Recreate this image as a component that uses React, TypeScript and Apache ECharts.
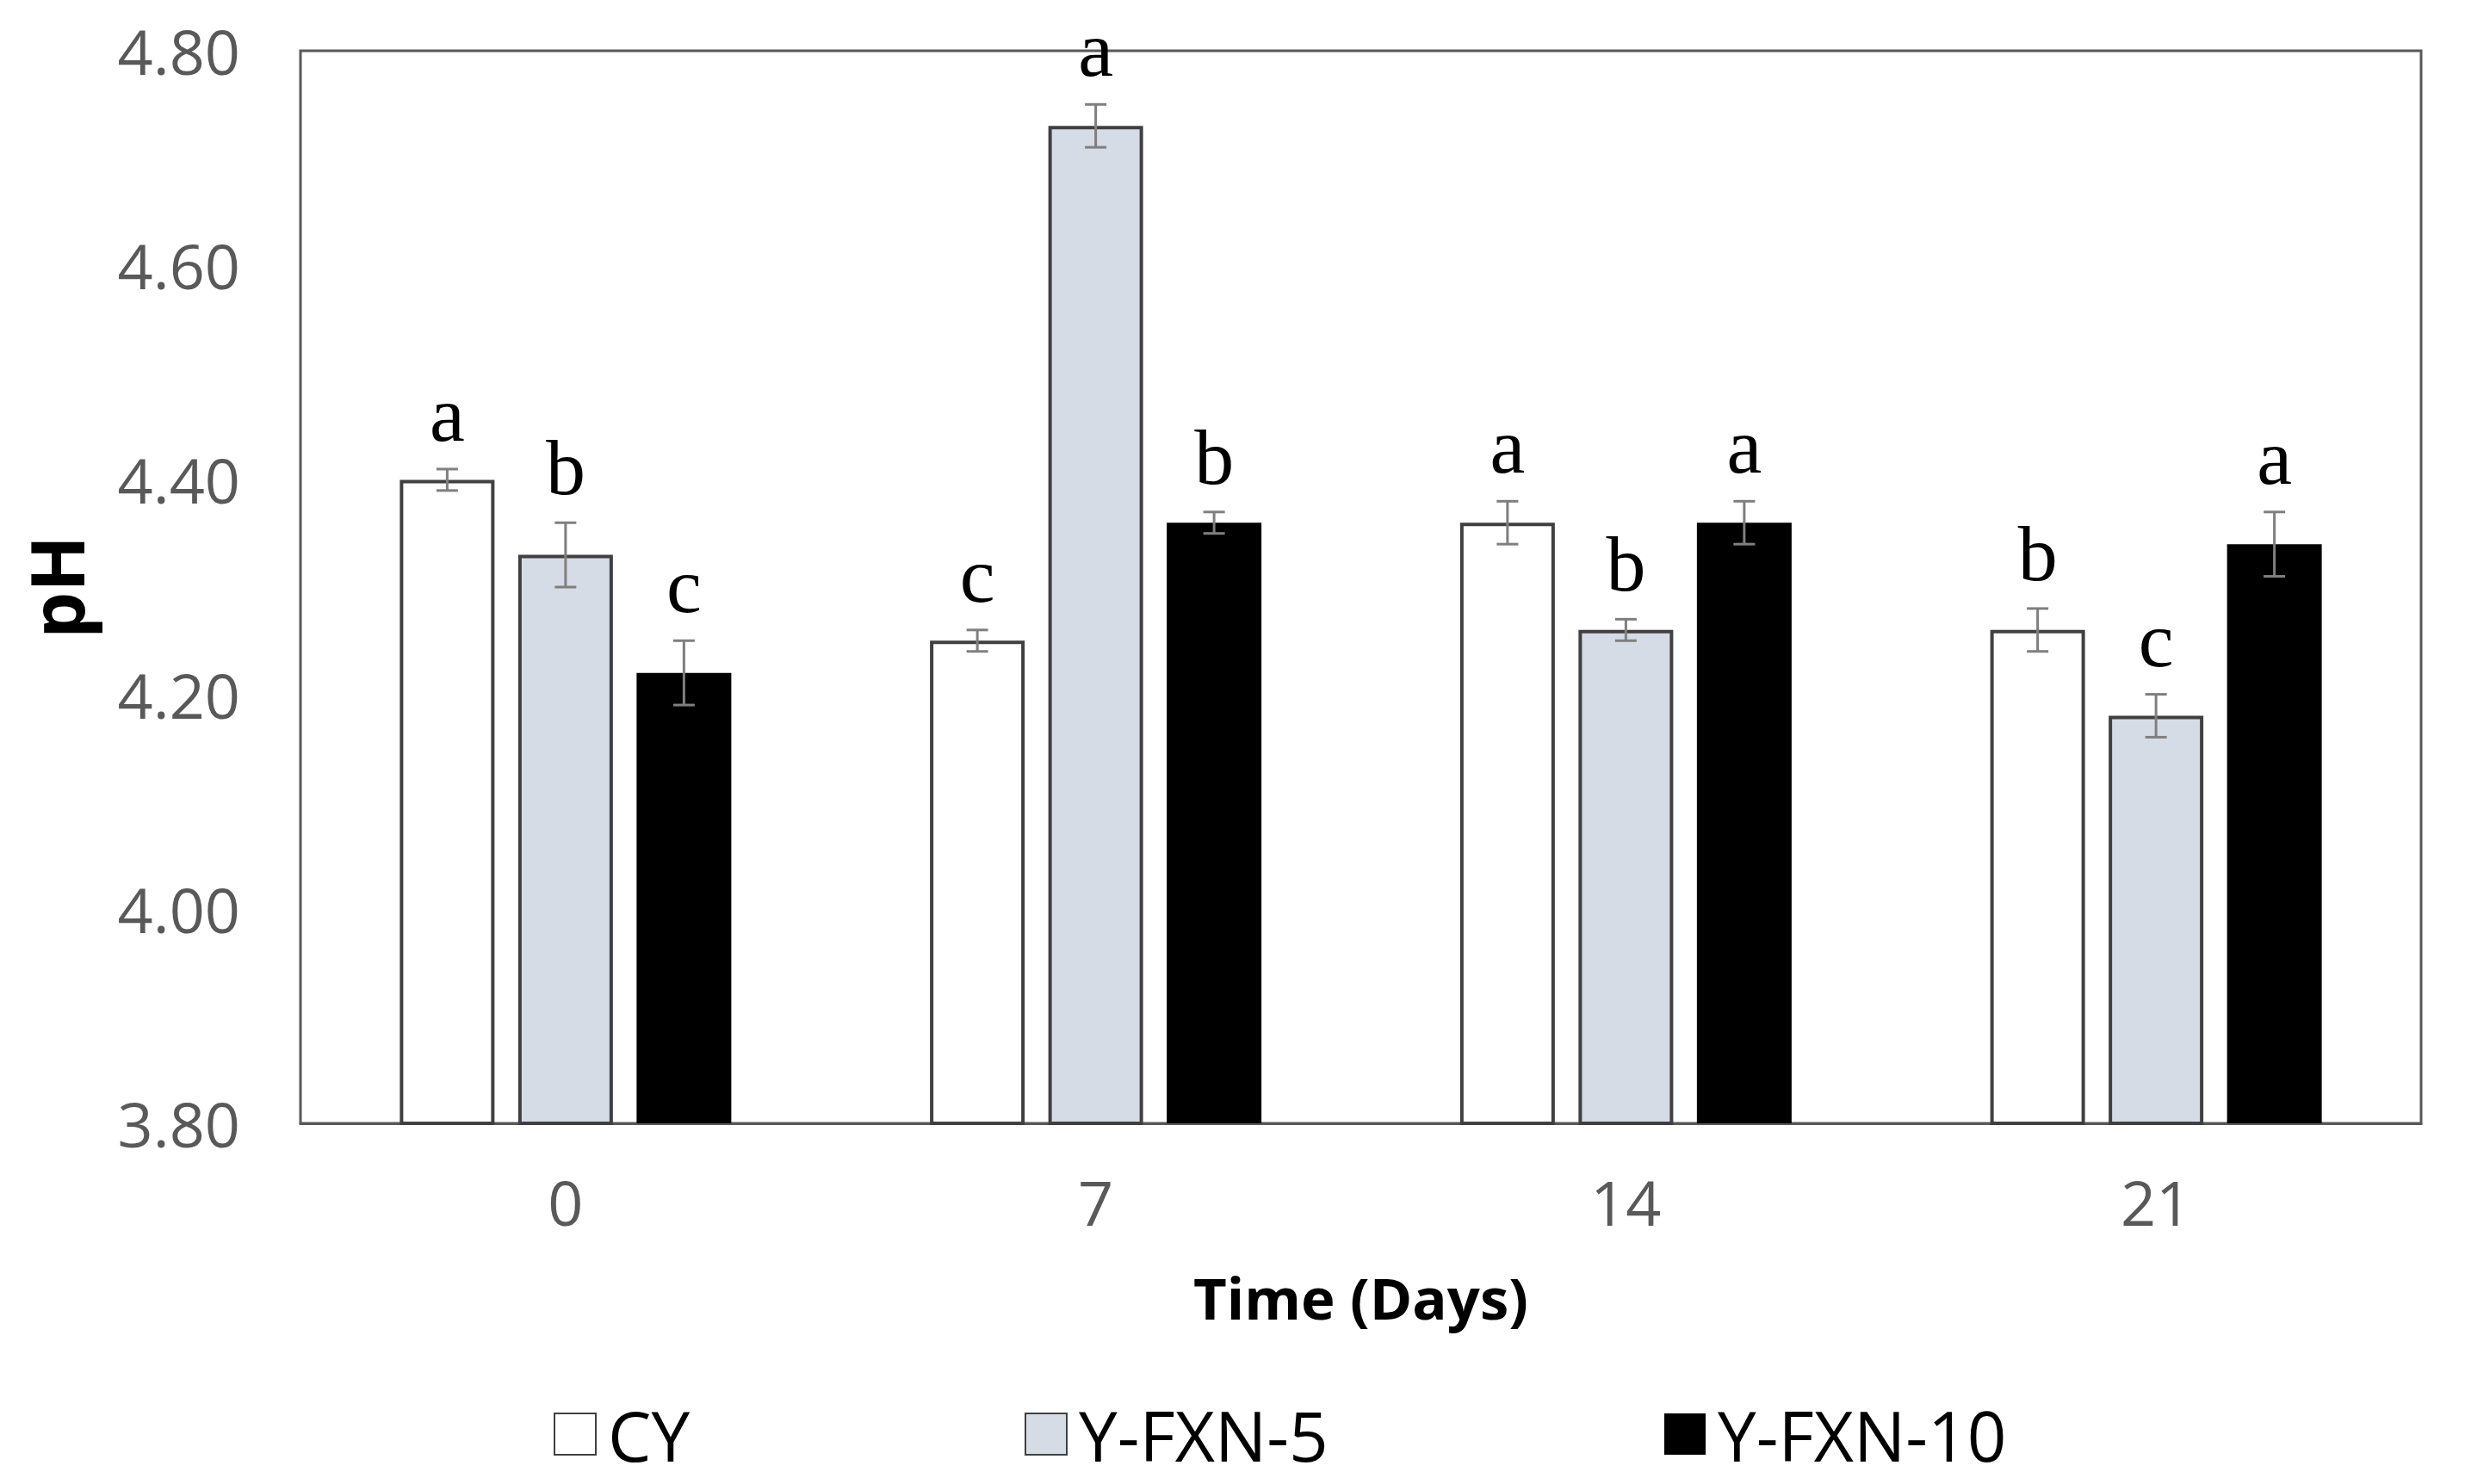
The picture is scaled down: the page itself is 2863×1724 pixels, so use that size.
import React, { useEffect, useRef } from "react";
import * as echarts from "echarts";

const days = ["0", "7", "14", "21"];
const seriesNames = ["CY", "Y-FXN-5", "Y-FXN-10"];
const cyValues = [4.4, 4.25, 4.36, 4.26];
const fxn5Values = [4.33, 4.73, 4.26, 4.18];
const fxn10Values = [4.22, 4.36, 4.36, 4.34];
const cyErrors = [0.01, 0.01, 0.02, 0.02];
const fxn5Errors = [0.03, 0.02, 0.01, 0.02];
const fxn10Errors = [0.03, 0.01, 0.02, 0.03];
const cyLetters = ["a", "c", "a", "b"];
const fxn5Letters = ["b", "a", "b", "c"];
const fxn10Letters = ["c", "b", "a", "a"];
const yMin = 3.8;
const yMax = 4.8;
const yStep = 0.2;

const FONT = '"Open Sans", "Noto Sans", sans-serif';
const BAR_W = 110;
const BAR_GAP = 27.5;

function errorSeries(values: number[], errors: number[], letters: string[], slot: number) {
  return {
    type: "custom",
    name: "err-" + slot,
    coordinateSystem: "cartesian2d",
    z: 10,
    silent: true,
    encode: { x: 0, y: 1 },
    data: values.map((v, i) => [i, v, errors[i]]),
    renderItem: (params: any, api: any) => {
      const i = api.value(0);
      const v = api.value(1);
      const e = api.value(2);
      const base = api.coord([i, v]);
      const cx = base[0] + (slot - 1) * (BAR_W + BAR_GAP);
      const top = api.coord([i, v + e])[1];
      const bot = api.coord([i, v - e])[1];
      const capHalf = 12.5;
      const st = { stroke: "#7f7f7f", lineWidth: 3 };
      return {
        type: "group",
        children: [
          { type: "line", shape: { x1: cx, y1: top, x2: cx, y2: bot }, style: st },
          { type: "line", shape: { x1: cx - capHalf, y1: top, x2: cx + capHalf, y2: top }, style: st },
          { type: "line", shape: { x1: cx - capHalf, y1: bot, x2: cx + capHalf, y2: bot }, style: st },
          {
            type: "text",
            x: cx,
            y: top - 18,
            style: {
              text: letters[params.dataIndex],
              fill: "#000",
              fontSize: 92,
              fontFamily: '"Liberation Serif", serif',
              align: "center",
              verticalAlign: "bottom",
            },
          },
        ],
      };
    },
  };
}

export default function App() {
  const ref = useRef<HTMLDivElement>(null);
  useEffect(() => {
    if (!ref.current) return;
    const chart = echarts.init(ref.current, undefined, { renderer: "svg" });
    const legendLeft = [643, 1190, 1933];
    const barStyles = [
      { color: "#FFFFFF", borderColor: "#404040", borderWidth: 4 },
      { color: "#D6DCE5", borderColor: "#404040", borderWidth: 4 },
      { color: "#000000", borderColor: "#000000", borderWidth: 0 },
    ];
    const valueSets = [cyValues, fxn5Values, fxn10Values];
    chart.setOption({
      animation: false,
      backgroundColor: "#ffffff",
      textStyle: { fontFamily: FONT },
      grid: {
        left: 349,
        right: 51,
        top: 59,
        bottom: 419,
        show: true,
        borderColor: "#595959",
        borderWidth: 3,
        containLabel: false,
        outerBoundsMode: "none",
      },
      xAxis: {
        type: "category",
        data: days,
        axisLine: { show: true, lineStyle: { color: "#595959", width: 3 } },
        axisTick: { show: false },
        splitLine: { show: false },
        axisLabel: { color: "#595959", fontSize: 72, margin: 55, fontFamily: FONT },
        name: "Time (Days)",
        nameLocation: "middle",
        nameGap: 168,
        nameMoveOverlap: false,
        nameTextStyle: { fontSize: 67, fontWeight: "bold", color: "#000", fontFamily: FONT },
      },
      yAxis: {
        type: "value",
        min: yMin,
        max: yMax,
        interval: yStep,
        axisLine: { show: false },
        axisTick: { show: false },
        splitLine: { show: false },
        axisLabel: {
          color: "#595959",
          fontSize: 72,
          margin: 70,
          fontFamily: FONT,
          formatter: (v: number) => v.toFixed(2),
        },
        name: "pH",
        nameLocation: "middle",
        nameGap: 242,
        nameMoveOverlap: false,
        nameTextStyle: { fontSize: 86, fontWeight: "bold", color: "#000", fontFamily: FONT },
      },
      legend: seriesNames.map((n, i) => ({
        data: [n],
        left: legendLeft[i],
        top: 1626,
        itemWidth: 48,
        itemHeight: 48,
        icon: "rect",
        padding: 0,
        selectedMode: false,
        textStyle: {
          fontSize: 80,
          color: "#000",
          fontFamily: FONT,
          padding: [0, 0, 0, 9],
        },
      })),
      series: [
        ...seriesNames.map((n, i) => ({
          type: "bar",
          name: n,
          data: valueSets[i],
          barWidth: BAR_W,
          barGap: "25%",
          itemStyle: barStyles[i],
          z: 2,
        })),
        errorSeries(cyValues, cyErrors, cyLetters, 0),
        errorSeries(fxn5Values, fxn5Errors, fxn5Letters, 1),
        errorSeries(fxn10Values, fxn10Errors, fxn10Letters, 2),
      ],
    });
    return () => chart.dispose();
  }, []);
  return (
    <div
      ref={ref}
      style={{ position: "fixed", left: 0, top: 0, width: 2863, height: 1724 }}
    />
  );
}
